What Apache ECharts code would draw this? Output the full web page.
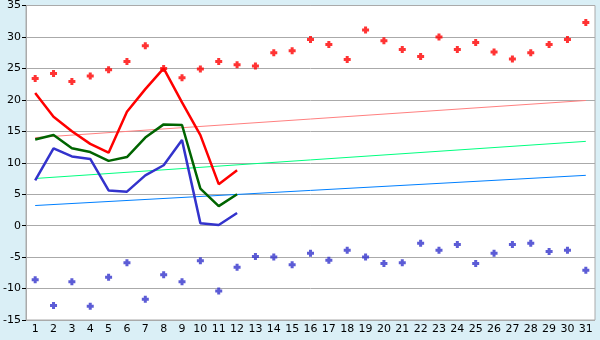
<!DOCTYPE html>
<html><head><meta charset="utf-8">
<script src="https://cdn.jsdelivr.net/npm/echarts@6/dist/echarts.min.js"></script>
<style>html,body{margin:0;padding:0;background:#daeff6;}#c{width:600px;height:340px;}</style>
</head><body><div id="c"></div>
<script>
const days = Array.from({length:31},(_,i)=>String(i+1));
const yTicks = [-15,-10,-5,0,5,10,15,20,25,30,35];
const maxLine = [21.1,17.3,15.0,13.0,11.6,18.1,21.7,25.0,19.6,14.4,6.6,8.8];
const meanLine = [13.7,14.4,12.3,11.7,10.3,10.9,14.0,16.1,16.0,5.9,3.1,5.0];
const minLine = [7.2,12.3,11.0,10.6,5.6,5.4,8.0,9.6,13.6,0.4,0.1,2.0];
const maxRecord = [23.4,24.2,22.9,23.8,24.8,26.1,28.6,25.0,23.5,24.9,26.1,25.6,25.4,27.5,27.8,29.6,28.8,26.4,31.1,29.4,28.0,26.9,30.0,28.0,29.1,27.6,26.5,27.5,28.8,29.6,32.3];
const minRecord = [-8.6,-12.7,-8.9,-12.8,-8.2,-5.9,-11.7,-7.8,-8.9,-5.6,-10.4,-6.6,-4.9,-5.0,-6.2,-4.4,-5.5,-3.9,-5.0,-6.0,-5.9,-2.8,-3.9,-3.0,-6.0,-4.4,-3.0,-2.8,-4.1,-3.9,-7.1];
const trendMax = [14.0,19.9];
const trendMean = [7.5,13.4];
const trendMin = [3.2,8.0];

const plus = 'path://M2,0H5V2H7V5H5V7H2V5H0V2H2Z';
const chart = echarts.init(document.getElementById('c'));
function trend(v,color){
  return {type:'line',data:[[0,v[0]],[30,v[1]]],symbol:'none',lineStyle:{color:color,width:1},itemStyle:{color:color},z:2,silent:true};
}
function main(v,color){
  return {type:'line',data:v,symbol:'none',lineStyle:{color:color,width:2.5},itemStyle:{color:color},z:4};
}
function pts(v,color){
  return {type:'scatter',data:v,symbol:plus,symbolSize:7,itemStyle:{color:color},z:5};
}
chart.setOption({
  animation:false,
  backgroundColor:'#daeff6',
  grid:{left:26,right:5,top:5,bottom:20,show:true,backgroundColor:'#ffffff',borderColor:'#aaaaaa',borderWidth:1},
  xAxis:{type:'category',data:days,boundaryGap:true,
    axisLine:{lineStyle:{color:'#aaaaaa'}},
    axisTick:{alignWithLabel:true,length:5,lineStyle:{color:'#000'}},
    axisLabel:{color:'#000',fontFamily:'DejaVu Sans',fontSize:11,margin:4,interval:0},
    splitLine:{show:false}},
  yAxis:{type:'value',min:yTicks[0],max:yTicks[yTicks.length-1],interval:5,
    axisLine:{show:true,lineStyle:{color:'#aaaaaa'}},
    axisTick:{show:true,length:4,lineStyle:{color:'#000'}},
    axisLabel:{color:'#000',fontFamily:'DejaVu Sans',fontSize:11,margin:5},
    splitLine:{lineStyle:{color:'#aaaaaa',width:1}}},
  series:[
    trend(trendMax,'#ff8080'),
    trend(trendMean,'#00ff80'),
    trend(trendMin,'#0080ff'),
    main(maxLine,'#ff0000'),
    main(meanLine,'#006400'),
    main(minLine,'#3333cc'),
    pts(maxRecord,'#ff0000'),
    pts(minRecord,'#3333cc')
  ]
});
</script></body></html>
